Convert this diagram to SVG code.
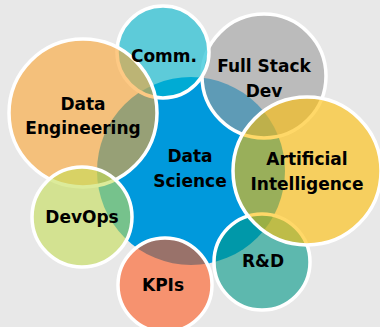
<svg xmlns="http://www.w3.org/2000/svg" width="380" height="327" viewBox="0 0 380 327">
<style>
.c{fill-opacity:0.6;stroke:#ffffff;stroke-width:3.5}
.t{font-family:"DejaVu Sans","Verdana","Liberation Sans",sans-serif;font-weight:bold;font-size:17px;fill:#000000;text-anchor:middle}
</style>
<rect x="0" y="0" width="380" height="327" fill="#e8e8e8"/>
<g id="connectors"></g>
<g id="data-science">
<circle cx="191" cy="171" r="94" fill="#0099dc"/>
<text class="t" x="190" y="162">Data</text>
<text class="t" x="190" y="187">Science</text>
</g>
<g id="full-stack-dev">
<circle class="c" cx="264" cy="76" r="62" fill="#9d9d9d"/>
</g>
<g id="rnd">
<circle class="c" cx="262" cy="262" r="48" fill="#009887"/>
</g>
<g id="artificial-intelligence">
<circle class="c" cx="307" cy="171" r="74" fill="#ffbe04"/>
</g>
<g id="comm">
<circle class="c" cx="163" cy="52" r="46" fill="#00b8cf"/>
</g>
<g id="data-engineering">
<circle class="c" cx="83" cy="113" r="74" fill="#fca532"/>
</g>
<g id="devops">
<circle class="c" cx="82" cy="217" r="50" fill="#c5de57"/>
</g>
<g id="kpis">
<circle class="c" cx="165" cy="285" r="47" fill="#ff591e"/>
</g>
<g id="labels">
<text class="t" x="264" y="72">Full Stack</text>
<text class="t" x="264" y="97">Dev</text>
<text class="t" x="263" y="267">R&amp;D</text>
<text class="t" x="307" y="165">Artificial</text>
<text class="t" x="307" y="190">Intelligence</text>
<text class="t" x="164" y="62">Comm.</text>
<text class="t" x="83" y="110">Data</text>
<text class="t" x="83" y="134">Engineering</text>
<text class="t" x="82" y="223">DevOps</text>
<text class="t" x="163" y="291">KPIs</text>
</g>
</svg>
